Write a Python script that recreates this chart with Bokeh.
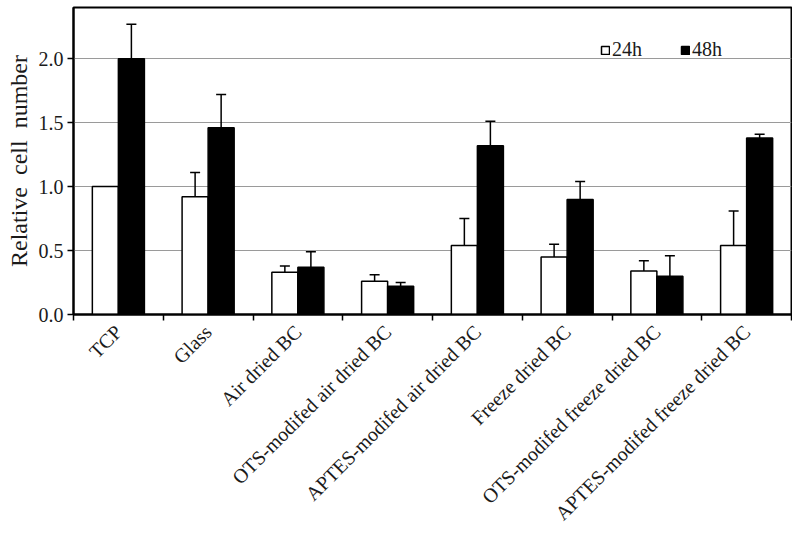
import numpy as np
from bokeh.plotting import figure
from bokeh.models import (ColumnDataSource, FixedTicker, Whisker, TeeHead, Legend,
                          LegendItem, Range1d, CustomJSTickFormatter)
from bokeh.embed import file_html
from bokeh.resources import INLINE

categories = ["TCP", "Glass", "Air dried BC", "OTS-modifed air dried BC",
              "APTES-modifed air dried BC", "Freeze dried BC",
              "OTS-modifed freeze dried BC", "APTES-modifed freeze dried BC"]
val_24h = [1.00, 0.92, 0.33, 0.26, 0.54, 0.45, 0.34, 0.54]
err_24h = [0.00, 0.19, 0.05, 0.05, 0.21, 0.10, 0.08, 0.27]
val_48h = [2.00, 1.46, 0.37, 0.22, 1.32, 0.90, 0.30, 1.38]
err_48h = [0.27, 0.26, 0.12, 0.03, 0.19, 0.14, 0.16, 0.03]
series_labels = ["24h", "48h"]
y_ticks = [0.0, 0.5, 1.0, 1.5, 2.0]

FONT = "Liberation Serif"
BW = 0.29

centers = np.arange(len(categories)) + 0.5
boundaries = list(np.arange(len(categories) + 1).astype(float))

x24 = centers - BW / 2
x48 = centers + BW / 2
v24 = np.array(val_24h); e24 = np.array(err_24h)
v48 = np.array(val_48h); e48 = np.array(err_48h)

src24 = ColumnDataSource(dict(x=x24, top=v24))
src48 = ColumnDataSource(dict(x=x48, top=v48))

m24 = e24 > 0
m48 = e48 > 0
w24 = ColumnDataSource(dict(x=x24[m24], lo=(v24 - e24)[m24], hi=(v24 + e24)[m24]))
w48 = ColumnDataSource(dict(x=x48[m48], lo=(v48 - e48)[m48], hi=(v48 + e48)[m48]))

p = figure(width=792, height=535, output_backend="svg", toolbar_location=None,
           x_range=Range1d(0, len(categories)), y_range=Range1d(0, 2.4),
           min_border_left=73, min_border_right=1, min_border_top=7,
           min_border_bottom=221)

p.background_fill_color = "white"
p.border_fill_color = "white"
p.outline_line_color = "black"
p.outline_line_width = 2

p.xgrid.grid_line_color = None
p.ygrid.grid_line_color = "#9a9a9a"
p.ygrid.grid_line_width = 1.2
p.ygrid.ticker = FixedTicker(ticks=y_ticks)

r24 = p.vbar(x="x", top="top", width=BW, bottom=0, source=src24,
             fill_color="white", line_color="black", line_width=1.5)
r48 = p.vbar(x="x", top="top", width=BW, bottom=0, source=src48,
             fill_color="black", line_color="black", line_width=1.5)

for s in (w24, w48):
    wk = Whisker(base="x", lower="lo", upper="hi", source=s,
                 line_color="black", line_width=1.5,
                 upper_head=TeeHead(size=10, line_color="black", line_width=1.5),
                 lower_head=TeeHead(size=10, line_color="black", line_width=1.5))
    p.add_layout(wk)

# x axis: labels at category centres, tick marks at boundaries
p.xaxis.ticker = FixedTicker(ticks=list(centers), minor_ticks=boundaries)
p.xaxis.major_label_overrides = {float(c): lab for c, lab in zip(centers, categories)}
p.xaxis.major_tick_line_color = None
p.xaxis.minor_tick_line_color = "black"
p.xaxis.minor_tick_line_width = 1.5
p.xaxis.minor_tick_in = 0
p.xaxis.minor_tick_out = 6
p.xaxis.axis_line_color = "black"
p.xaxis.axis_line_width = 2
p.xaxis.major_label_orientation = np.pi / 4
p.xaxis.major_label_text_font = FONT
p.xaxis.major_label_text_font_size = "20px"
p.xaxis.major_label_text_color = "#1a1a1a"
p.xaxis.major_label_standoff = 8

p.yaxis.ticker = FixedTicker(ticks=y_ticks)
p.yaxis.formatter = CustomJSTickFormatter(code="return tick.toFixed(1);")
p.yaxis.minor_tick_line_color = None
p.yaxis.major_tick_in = 0
p.yaxis.major_tick_out = 6
p.yaxis.major_tick_line_width = 1.5
p.yaxis.axis_line_color = "black"
p.yaxis.axis_line_width = 2
p.yaxis.major_label_text_font = FONT
p.yaxis.major_label_text_font_size = "20px"
p.yaxis.major_label_text_color = "#1a1a1a"
p.yaxis.major_label_standoff = 4
p.yaxis.axis_label = "Relative\u00a0\u00a0cell\u00a0\u00a0number"
p.yaxis.axis_label_text_font = FONT
p.yaxis.axis_label_text_font_size = "24px"
p.yaxis.axis_label_text_font_style = "normal"
p.yaxis.axis_label_text_color = "#1a1a1a"
p.yaxis.axis_label_standoff = 4

legend = Legend(items=[LegendItem(label=series_labels[0], renderers=[r24]),
                       LegendItem(label=series_labels[1], renderers=[r48])],
                orientation="horizontal", location=(527, 253),
                border_line_color=None, background_fill_alpha=0,
                glyph_width=10, glyph_height=10, label_standoff=2, spacing=38,
                padding=0, margin=0,
                label_text_font=FONT, label_text_font_size="20px",
                label_text_color="#1a1a1a")
p.add_layout(legend, "center")

open("out.html", "w").write(file_html(p, INLINE))
